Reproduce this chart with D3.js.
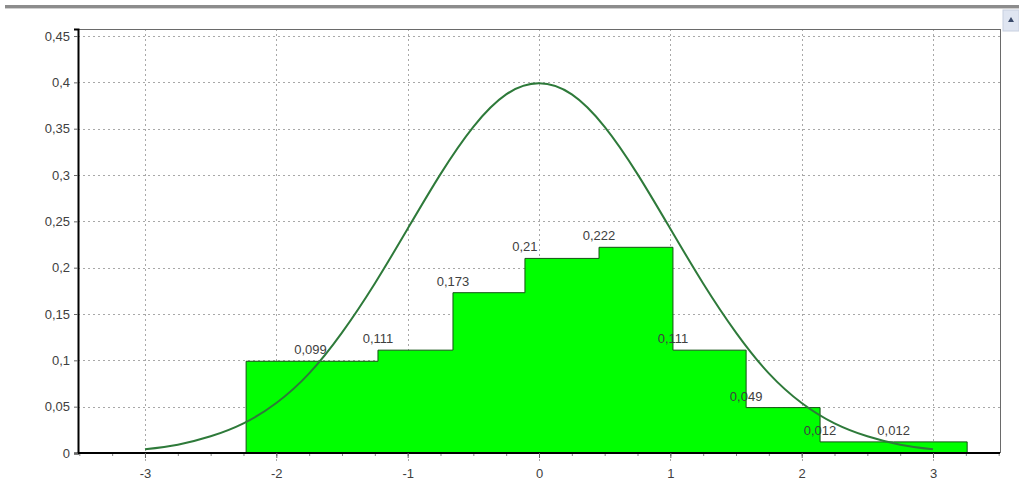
<!DOCTYPE html>
<html><head><meta charset="utf-8">
<script src="https://cdn.jsdelivr.net/npm/d3@7"></script>
<style>body{margin:0;background:#fff;}svg{display:block;font-family:"Liberation Sans",Arial,sans-serif;}</style>
</head><body>
<svg id="c" width="1019" height="500"></svg>
<script>
// Histogram bin edges and relative frequencies
const binEdges = [-2.23, -1.226, -0.655, -0.107, 0.457, 1.02, 1.577, 2.14, 2.70, 3.26];
const binValues = [0.099, 0.111, 0.173, 0.21, 0.222, 0.111, 0.049, 0.012, 0.012];
const binLabels = ["0,099", "0,111", "0,173", "0,21", "0,222", "0,111", "0,049", "0,012", "0,012"];
const labelX = [-1.74, -1.226, -0.655, -0.107, 0.457, 1.02, 1.577, 2.14, 2.70];
// Density curve
const curveX = [-3, -2.75, -2.5, -2.25, -2, -1.75, -1.5, -1.25, -1, -0.75, -0.5, -0.25, 0, 0.25, 0.5, 0.75, 1, 1.25, 1.5, 1.75, 2, 2.25, 2.5, 2.75, 3];
const curveY = [0.004, 0.009, 0.018, 0.032, 0.054, 0.086, 0.130, 0.183, 0.242, 0.301, 0.352, 0.387, 0.399, 0.387, 0.352, 0.301, 0.242, 0.183, 0.130, 0.086, 0.054, 0.032, 0.018, 0.009, 0.004];
const yTicks = [0, 0.05, 0.1, 0.15, 0.2, 0.25, 0.3, 0.35, 0.4, 0.45];
const yTickLabels = ["0", "0,05", "0,1", "0,15", "0,2", "0,25", "0,3", "0,35", "0,4", "0,45"];
const xTicks = [-3, -2, -1, 0, 1, 2, 3];
const xTickLabels = ["-3", "-2", "-1", "0", "1", "2", "3"];

const svg = d3.select("#c");
const L = 78, R = 1000, T = 29, B = 453;
const x = d3.scaleLinear().domain([-3.51, 3.51]).range([L, R]);
const y = d3.scaleLinear().domain([0, 0.4576]).range([B, T]);

// window top strip and button
svg.append("rect").attr("x", 5).attr("y", 5).attr("width", 1014).attr("height", 3).attr("fill", "#8c8c8c");
svg.append("rect").attr("x", 5).attr("y", 8).attr("width", 1014).attr("height", 1).attr("fill", "#cfcfcf");
svg.append("rect").attr("x", 1003).attr("y", 10).attr("width", 16).attr("height", 21).attr("fill", "#dfe5f1").attr("stroke", "#c8d0e0");
svg.append("path").attr("d", "M1008,22 L1011,17 L1014,22 Z").attr("fill", "#3a4a6a");

// gridlines
const grid = svg.append("g").attr("stroke", "#a8a8a8").attr("stroke-width", 1).attr("stroke-dasharray", "2,3");
grid.selectAll("line.h").data(yTicks.filter(d => d > 0)).join("line")
  .attr("x1", L).attr("x2", R).attr("y1", d => Math.round(y(d)) + 0.5).attr("y2", d => Math.round(y(d)) + 0.5);
grid.selectAll("line.v").data(xTicks).join("line")
  .attr("y1", T).attr("y2", B + 8).attr("x1", d => Math.round(x(d)) + 0.5).attr("x2", d => Math.round(x(d)) + 0.5);

// histogram area
const pts = [];
binValues.forEach((v, i) => { pts.push([binEdges[i], v]); });
pts.push([binEdges[binEdges.length - 1], binValues[binValues.length - 1]]);
const area = d3.area().x(d => x(d[0])).y0(y(0)).y1(d => y(d[1])).curve(d3.curveStepAfter);
svg.append("path").datum(pts).attr("d", area).attr("fill", "#00ff00");

// labels
svg.append("g").selectAll("text").data(binValues).join("text")
  .attr("x", (d, i) => x(labelX[i])).attr("y", d => y(d) - 7)
  .attr("text-anchor", "middle").attr("font-size", 13).attr("fill", "#404040")
  .text((d, i) => binLabels[i]);

// outline
const line = d3.line().x(d => x(d[0])).y(d => y(d[1])).curve(d3.curveStepAfter);
const outlinePts = [[binEdges[0], 0]].concat(pts).concat([[binEdges[binEdges.length - 1], 0]]);
svg.append("path").datum(outlinePts).attr("d", line).attr("fill", "none").attr("stroke", "#145214").attr("stroke-width", 1);

// density curve
const cl = d3.line().x((d, i) => x(curveX[i])).y(d => y(d)).curve(d3.curveNatural);
svg.append("path").datum(curveY).attr("d", cl).attr("fill", "none").attr("stroke", "#2e7a3a").attr("stroke-width", 2);

// frame
svg.append("line").attr("x1", L).attr("x2", R).attr("y1", T + 0.5).attr("y2", T + 0.5).attr("stroke", "#6a6a6a");
svg.append("line").attr("x1", R + 0.5).attr("x2", R + 0.5).attr("y1", T).attr("y2", B).attr("stroke", "#6a6a6a");

// axes
const yAxis = d3.axisLeft(y).tickValues(yTicks).tickFormat((d, i) => yTickLabels[i]).tickSize(4).tickPadding(4);
const gy = svg.append("g").attr("transform", `translate(${L},0)`).call(yAxis);
gy.select(".domain").attr("stroke", "#000").attr("stroke-width", 2);
gy.selectAll(".tick line").attr("stroke", "#666");
gy.selectAll("text").attr("font-size", 13).attr("fill", "#404040").attr("font-family", "Liberation Sans, Arial, sans-serif");

const minor = d3.range(-3.5, 3.51, 0.25);
const xMinor = d3.axisBottom(x).tickValues(minor).tickSize(3).tickFormat("");
const gxm = svg.append("g").attr("transform", `translate(0,${B})`).call(xMinor);
gxm.select(".domain").remove();
gxm.selectAll(".tick line").attr("stroke", "#888");

const xAxis = d3.axisBottom(x).tickValues(xTicks).tickFormat((d, i) => xTickLabels[i]).tickSize(5).tickPadding(11);
const gx = svg.append("g").attr("transform", `translate(0,${B})`).call(xAxis);
gx.select(".domain").attr("stroke", "#000").attr("stroke-width", 2).attr("d", `M${L},0H${R}`);
gx.selectAll(".tick line").attr("stroke", "#666");
gx.selectAll("text").attr("font-size", 13).attr("fill", "#404040").attr("font-family", "Liberation Sans, Arial, sans-serif");
</script>
</body></html>
